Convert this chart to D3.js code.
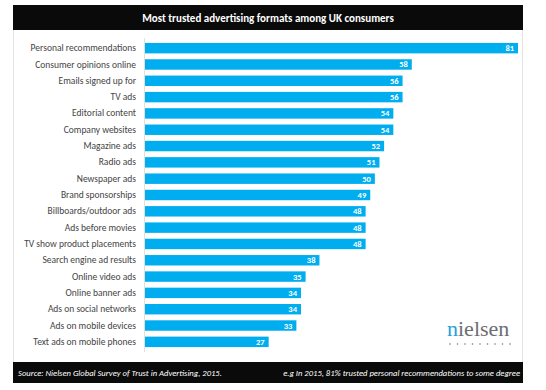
<!DOCTYPE html>
<html><head><meta charset="utf-8">
<script src="https://cdn.jsdelivr.net/npm/d3@7"></script>
<style>body{margin:0;background:#fff}svg{display:block}</style>
</head><body><svg id="c" width="546" height="390"></svg>
<script>
const categories = ["Personal recommendations","Consumer opinions online","Emails signed up for","TV ads","Editorial content","Company websites","Magazine ads","Radio ads","Newspaper ads","Brand sponsorships","Billboards/outdoor ads","Ads before movies","TV show product placements","Search engine ad results","Online video ads","Online banner ads","Ads on social networks","Ads on mobile devices","Text ads on mobile phones"];
const values = [81,58,56,56,54,54,52,51,50,49,48,48,48,38,35,34,34,33,27];
const title = "Most trusted advertising formats among UK consumers";
const sourceText = "Source: Nielsen Global Survey of Trust in Advertising, 2015.";
const noteText = "e.g In 2015, 81% trusted personal recommendations to some degree";

const svg = d3.select("#c");
const font = "Carlito, Calibri, Lato, sans-serif";
// frame
svg.append("rect").attr("x",13.5).attr("y",5.5).attr("width",509).attr("height",377).attr("fill","#fff").attr("stroke","#e4e4e4");
// title bar
svg.append("rect").attr("x",13).attr("y",5).attr("width",510).attr("height",25).attr("fill","#0a0a0a");
svg.append("text").attr("x",268).attr("y",21.5).attr("text-anchor","middle").attr("fill","#fff")
  .attr("font-family",font).attr("font-weight","bold").attr("font-size",11).text(title);
// footer bar
svg.append("rect").attr("x",13).attr("y",362).attr("width",510).attr("height",21).attr("fill","#0a0a0a");
svg.append("text").attr("x",18).attr("y",375.5).attr("fill","#fff").attr("font-style","italic")
  .attr("font-family",font).attr("font-size",8.6).text(sourceText);
svg.append("text").attr("x",520).attr("y",375.5).attr("text-anchor","end").attr("fill","#fff").attr("font-style","italic")
  .attr("font-family",font).attr("font-size",8.6).text(noteText);

const x = d3.scaleLinear().domain([0,81]).range([144,518]);
const y = d3.scaleBand().domain(categories).range([40,350]).paddingInner(0.36).paddingOuter(0.18);

svg.append("line").attr("x1",144.5).attr("x2",144.5).attr("y1",38).attr("y2",352).attr("stroke","#e0e0e0");

const yAxis = d3.axisLeft(y).tickSize(0).tickPadding(8);
const ga = svg.append("g").attr("transform","translate(144,0)").call(yAxis);
ga.select(".domain").remove();
ga.selectAll("text").attr("font-family",font).attr("font-size",9.5).attr("fill","#444");

const data = categories.map((c,i)=>({c,v:values[i]}));
svg.selectAll("rect.bar").data(data).join("rect").attr("class","bar")
  .attr("x",x(0)+1).attr("y",d=>y(d.c)).attr("width",d=>x(d.v)-x(0)-1).attr("height",y.bandwidth())
  .attr("fill","#00aeef");
svg.selectAll("text.val").data(data).join("text").attr("class","val")
  .attr("x",d=>x(d.v)-4).attr("y",d=>y(d.c)+y.bandwidth()/2).attr("dy","0.35em")
  .attr("text-anchor","end").attr("fill","#fff").attr("font-weight","bold")
  .attr("font-family",font).attr("font-size",8.5).text(d=>d.v);

// nielsen logo
const logo = svg.append("text").attr("x",447).attr("y",336).attr("font-family","'Liberation Serif', 'DejaVu Serif', serif").attr("font-size",22).attr("fill","#6d6e71");
logo.append("tspan").attr("fill","#1fa3dc").text("n");
logo.append("tspan").text("ielsen");
for(let i=0;i<9;i++){
  svg.append("circle").attr("cx",450+i*7.5).attr("cy",344).attr("r",0.8).attr("fill","#777");
}
</script></body></html>
